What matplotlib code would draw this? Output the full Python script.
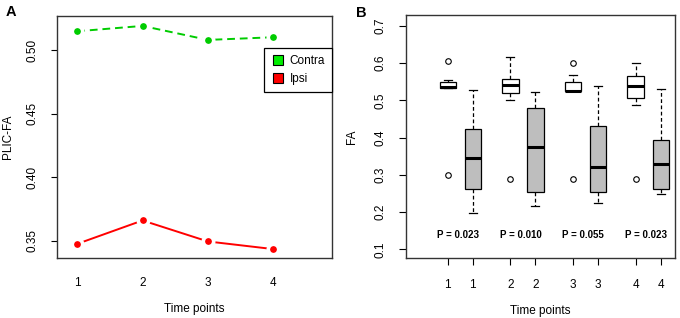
import numpy as np
import matplotlib
matplotlib.use('Agg')
from matplotlib import pyplot as plt
from matplotlib.lines import Line2D

plt.rcParams['font.family'] = ['Liberation Sans', 'DejaVu Sans']

# Panel A: mean PLIC-FA per time point
time_points = [1, 2, 3, 4]
contra_fa = [0.5147, 0.5189, 0.5079, 0.5100]
ipsi_fa = [0.3476, 0.3660, 0.3495, 0.3435]

# Panel B: box plot statistics (Contra / Ipsi alternating)
box_labels = ['1', '1', '2', '2', '3', '3', '4', '4']
box_pos = [1, 2, 3.5, 4.5, 6, 7, 8.5, 9.5]
whislo = [0.532, 0.1975, 0.501, 0.2155, 0.524, 0.2235, 0.488, 0.2476]
q1 = [0.532, 0.262, 0.519, 0.253, 0.524, 0.2546, 0.505, 0.262]
med = [0.536, 0.344, 0.540, 0.3745, 0.5256, 0.3217, 0.5382, 0.330]
q3 = [0.548, 0.4236, 0.558, 0.479, 0.548, 0.430, 0.566, 0.3925]
whishi = [0.554, 0.527, 0.617, 0.522, 0.5685, 0.537, 0.6008, 0.530]
fliers = [[0.606, 0.2994], [], [0.288], [], [0.600, 0.2887], [], [0.2887], []]
p_values = ['P = 0.023', 'P = 0.010', 'P = 0.055', 'P = 0.023']

fig = plt.figure(figsize=(6.8, 3.18), dpi=100)
axA = fig.add_axes([0.0838, 0.1887, 0.4044, 0.761])
axB = fig.add_axes([0.5966, 0.1887, 0.396, 0.764])

# ---- panel A
axA.plot(time_points, contra_fa, color='#00cc00', ls=(0, (4, 2.5)), lw=1.4,
         marker='o', ms=7.5, mfc='#00cc00', mec='white', mew=2.6)
axA.plot(time_points, ipsi_fa, color='#ff0000', ls='-', lw=1.4,
         marker='o', ms=7.5, mfc='#ff0000', mec='white', mew=2.6)
axA.set_xlim(0.69, 4.9)
axA.set_ylim(0.3365, 0.5267)
axA.set_xticks(time_points)
axA.set_yticks([0.35, 0.40, 0.45, 0.50])
axA.set_yticklabels(['0.35', '0.40', '0.45', '0.50'], rotation=90, va='center')
axA.tick_params(axis='x', length=0, pad=14, labelsize=8.5)
axA.tick_params(axis='y', length=4, width=0.8, pad=9, labelsize=8.5)
axA.set_xlabel('Time points', fontsize=8.5, labelpad=10)
axA.set_ylabel('PLIC-FA', fontsize=8.5, labelpad=9)
handles = [Line2D([], [], ls='none', marker='s', ms=7, mfc='#00ee00', mec='black', mew=0.8),
           Line2D([], [], ls='none', marker='s', ms=7, mfc='#ff0000', mec='black', mew=0.8)]
leg = axA.legend(handles, ['Contra', 'Ipsi'], loc='upper right', bbox_to_anchor=(1.0, 0.868),
                 fancybox=False, edgecolor='black', framealpha=1, fontsize=8.5,
                 handletextpad=0.4, borderpad=0.6, handlelength=1.2, borderaxespad=0)
leg.get_frame().set_linewidth(0.9)

# ---- panel B
stats = []
for i in range(len(box_pos)):
    stats.append(dict(whislo=whislo[i], q1=q1[i], med=med[i], q3=q3[i],
                      whishi=whishi[i], fliers=fliers[i]))
bp = axB.bxp(stats, positions=box_pos, widths=0.65, patch_artist=True,
             capwidths=0.32,
             boxprops=dict(lw=0.9, edgecolor='black'),
             medianprops=dict(color='black', lw=2.2),
             whiskerprops=dict(color='black', lw=0.9, ls=(0, (3, 2))),
             capprops=dict(color='black', lw=0.9),
             flierprops=dict(marker='o', ms=4, mfc='none', mec='black', mew=0.8))
for i, patch in enumerate(bp['boxes']):
    patch.set_facecolor('white' if i % 2 == 0 else '#bebebe')

for k, txt in enumerate(p_values):
    xc = (box_pos[2 * k] + box_pos[2 * k + 1]) / 2
    axB.text(xc - 0.1, 0.138, txt, ha='center', va='center', fontsize=7, fontweight='bold')

axB.set_xlim(-0.68, 10.07)
axB.set_ylim(0.0767, 0.7287)
axB.set_xticks(box_pos)
axB.set_xticklabels(box_labels)
axB.set_yticks([0.1, 0.2, 0.3, 0.4, 0.5, 0.6, 0.7])
axB.set_yticklabels(['0.1', '0.2', '0.3', '0.4', '0.5', '0.6', '0.7'], rotation=90, va='center')
axB.tick_params(axis='x', length=5, width=0.8, pad=10, labelsize=8.5)
axB.tick_params(axis='y', length=5, width=0.8, pad=9, labelsize=8.5)
axB.set_xlabel('Time points', fontsize=8.5, labelpad=10)
axB.set_ylabel('FA', fontsize=8.5, labelpad=12)

for ax in (axA, axB):
    for sp in ax.spines.values():
        sp.set_linewidth(1.0)
        sp.set_color('#333333')

fig.text(0.009, 0.962, 'A', fontsize=10.5, fontweight='bold', va='center')
fig.text(0.524, 0.958, 'B', fontsize=10.5, fontweight='bold', va='center')

plt.savefig('out.png', dpi=100)
